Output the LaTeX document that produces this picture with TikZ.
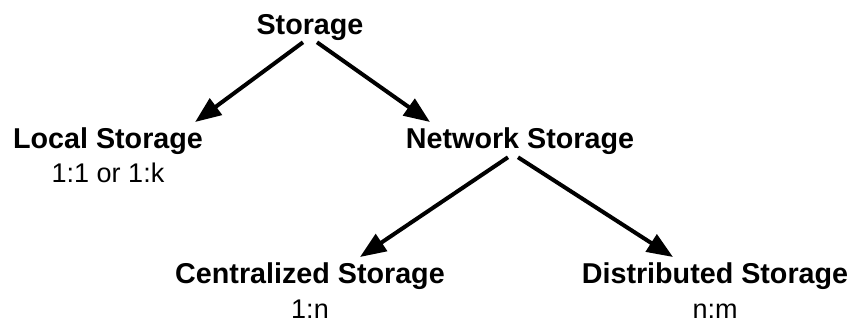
\documentclass[tikz,border=0pt]{standalone}
\usepackage{fontspec}
\setmainfont{Liberation Sans}
\usetikzlibrary{arrows.meta}
\begin{document}
\begin{tikzpicture}[x=1pt,y=-1pt,
  title/.style={inner sep=0pt,anchor=base,font=\fontsize{28.7}{32}\selectfont\bfseries},
  sub/.style={inner sep=0pt,anchor=base,font=\fontsize{27}{30}\selectfont},
  arr/.style={line width=4pt,-{Triangle[length=26pt,width=20pt]}}]
\useasboundingbox (0,0) rectangle (854,323);
\node[title] (st) at (310,35) {Storage};
\node[title] (loc) at (108,149) {Local Storage};
\node[sub] (locsub) at (108,183) {1:1 or 1:k};
\node[title] (net) at (520,149) {Network Storage};
\node[title] (cen) at (310,283) {Centralized Storage};
\node[sub] (censub) at (310,318) {1:n};
\node[title] (dis) at (715,283) {Distributed Storage};
\node[sub] (dissub) at (715,318) {n:m};
\draw[arr] ([shift={(-7,1)}]st.south) -- ([shift={(-8,-6)}]loc.north east);
\draw[arr] ([shift={(7,1)}]st.south) -- ([shift={(-90,-6)}]net.north);
\draw[arr] ([shift={(-12,2)}]net.south) -- ([shift={(50,-5)}]cen.north);
\draw[arr] ([shift={(-2,2)}]net.south) -- ([shift={(-42,-5)}]dis.north);
\end{tikzpicture}
\end{document}
